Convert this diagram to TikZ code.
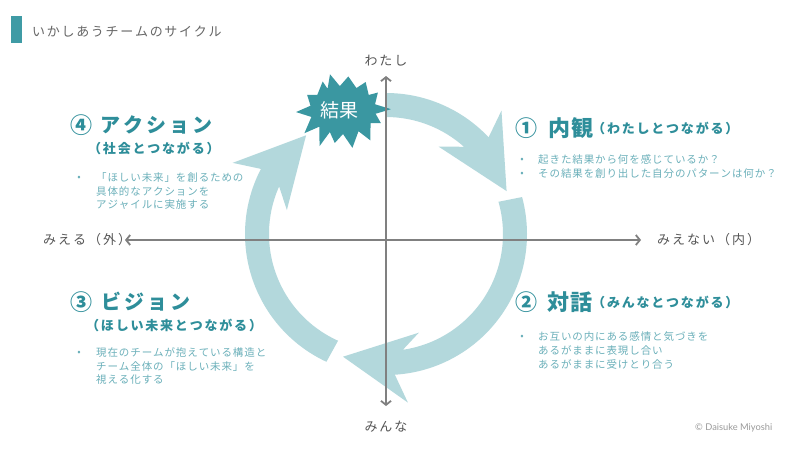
\documentclass[tikz,border=0pt]{standalone}
\usepackage{fontspec}
\setmainfont{Noto Sans CJK JP}
\newfontfamily\latofont{Lato}
\usetikzlibrary{arrows.meta}
\definecolor{ringc}{HTML}{B3D8DC}
\definecolor{burstc}{HTML}{3A97A1}
\definecolor{headc}{HTML}{2E8E9A}
\definecolor{bodyc}{HTML}{6BB0BA}
\definecolor{axisc}{HTML}{808080}
\definecolor{labelc}{HTML}{555555}
\definecolor{titlec}{HTML}{666666}
\definecolor{barc}{HTML}{3F9BA5}
\definecolor{copyc}{HTML}{9A9A9A}
\makeatletter
\newcommand\lsp[2]{\def\lsp@k{#1}\@tfor\lsp@c:=#2\do{\lsp@c\kern\lsp@k}\unkern}
\makeatother
\begin{document}
\begin{tikzpicture}[x=1pt,y=1pt,
  bodytxt/.style={font=\fontsize{10.5}{12}\selectfont,text=bodyc,anchor=west,inner sep=0pt},
  bul/.style={font=\fontsize{10}{12}\selectfont,text=bodyc,inner sep=0pt},
  numtxt/.style={font=\fontsize{22}{26}\selectfont\bfseries,text=headc,anchor=west,inner sep=0pt},
  headtxt/.style={font=\fontsize{20}{24}\selectfont\bfseries,text=headc,anchor=west,inner sep=0pt},
  kanjihead/.style={font=\fontsize{22}{26}\selectfont\bfseries,text=headc,anchor=west,inner sep=0pt},
  subtxt/.style={font=\fontsize{13}{15}\selectfont\bfseries,text=headc,anchor=west,inner sep=0pt},
  axlabel/.style={font=\fontsize{13}{15}\selectfont,text=labelc,inner sep=0pt},
  ringseg/.style={fill=ringc},
  axisline/.style={draw=axisc,line width=1.8pt,{Straight Barb[length=4pt,width=10pt]}-{Straight Barb[length=4pt,width=10pt]}}
]
\useasboundingbox (0,0) rectangle (800,-456);
\fill[white] (0,0) rectangle (800,-456);

% title
\fill[barc] (11,-16) rectangle (22,-43);
\node[font=\fontsize{13}{15}\selectfont,text=titlec,anchor=west,inner sep=0pt] (title) at (32,-32) {\lsp{1.7pt}{いかしあうチームのサイクル}};

% ring
\begin{scope}[shift={(386,-234)}]
\fill[ringseg] (90:141) arc[start angle=90,end angle=43.3,radius=141] -- (46.9:169) -- (19.6:128) -- (59:102) -- (48.2:117) arc[start angle=48.2,end angle=90,radius=117] -- cycle;
\fill[ringseg] (15.2:141) arc[start angle=15.2,end angle=-86.4,radius=141] -- (-82.6:170) -- (-109.3:130) -- (-71.6:104) -- (-81.7:117) arc[start angle=-81.7,end angle=16,radius=117] -- cycle;
\fill[ringseg] (245:141) arc[start angle=245,end angle=152.5,radius=141] -- (155.1:169) -- (129:127) -- (166.4:102) -- (156:117) arc[start angle=156,end angle=245.8,radius=117] -- cycle;
\end{scope}

% burst
\begin{scope}[shift={(343,-110)}]
\fill[burstc] (1:48) -- ({33*cos(13.8)},{24*sin(13.8)}) -- (26.6:39) -- ({33*cos(38.8)},{24*sin(38.8)})
 -- (51:36) -- ({33*cos(66)},{24*sin(66)}) -- (81:34) -- ({33*cos(95.5)},{24*sin(95.5)})
 -- (110:38) -- ({33*cos(117.8)},{24*sin(117.8)}) -- (125.5:35) -- ({33*cos(141.2)},{24*sin(141.2)})
 -- (157:39) -- ({33*cos(169.8)},{24*sin(169.8)}) -- (182.5:47) -- ({33*cos(196.8)},{24*sin(196.8)})
 -- (211:45) -- ({33*cos(224)},{24*sin(224)}) -- (237:43) -- ({33*cos(246.5)},{24*sin(246.5)})
 -- (256:34) -- ({33*cos(270)},{24*sin(270)}) -- (284:39) -- ({33*cos(298)},{24*sin(298)})
 -- (312:41) -- ({33*cos(326.5)},{24*sin(326.5)}) -- (341:40) -- ({33*cos(351)},{24*sin(351)}) -- cycle;
\end{scope}
\node[font=\fontsize{19}{22}\selectfont,text=white,inner sep=0pt] (kekka) at (339,-110) {結果};

% axes
\coordinate (axL) at (125,-240);
\coordinate (axR) at (641,-240);
\coordinate (axT) at (386,-76);
\coordinate (axB) at (386,-406);
\draw[axisline] (axL) -- (axR);
\draw[axisline] (axT) -- (axB);

\node[axlabel] (lt) at (386,-61) {\lsp{2pt}{わたし}};
\node[axlabel] (lb) at (386,-427) {\lsp{2pt}{みんな}};
\node[axlabel,anchor=west] (ll) at (43,-240) {\lsp{2pt}{みえる（外）}};
\node[axlabel,anchor=west] (lr) at (657,-240) {\lsp{2pt}{みえない（内）}};

% 4 action
\node[numtxt] (n4) at (70,-125) {④};
\node[headtxt] (h4) at (100,-125) {\lsp{3pt}{アクション}};
\node[subtxt] (s4) at (88,-148) {\lsp{1.8pt}{（社会とつながる）}};
\node[bul] (b4) at (79,-178) {•};
\node[bodytxt] (t4a) at (96,-178) {\lsp{0.9pt}{「ほしい未来」を創るための}};
\node[bodytxt] (t4b) at (96,-191.3) {\lsp{0.9pt}{具体的なアクションを}};
\node[bodytxt] (t4c) at (96,-204.6) {\lsp{0.9pt}{アジャイルに実施する}};

% 1
\node[numtxt] (n1) at (515,-128) {①};
\node[kanjihead] (h1) at (548,-128) {\lsp{1pt}{内観}};
\node[subtxt] (s1) at (592,-128) {\lsp{1.8pt}{（わたしとつながる）}};
\node[bul] (b1a) at (522,-160) {•};
\node[bul] (b1b) at (522,-174) {•};
\node[bodytxt] (t1a) at (538,-160) {\lsp{0.9pt}{起きた結果から何を感じているか？}};
\node[bodytxt] (t1b) at (538,-174) {\lsp{0.9pt}{その結果を創り出した自分のパターンは何か？}};

% 2
\node[numtxt] (n2) at (515,-302) {②};
\node[kanjihead] (h2) at (547,-302) {\lsp{1pt}{対話}};
\node[subtxt] (s2) at (592,-302) {\lsp{1.8pt}{（みんなとつながる）}};
\node[bul] (b2) at (522,-337) {•};
\node[bodytxt] (t2a) at (538,-337) {\lsp{0.9pt}{お互いの内にある感情と気づきを}};
\node[bodytxt] (t2b) at (538,-350.7) {\lsp{0.9pt}{あるがままに表現し合い}};
\node[bodytxt] (t2c) at (538,-364) {\lsp{0.9pt}{あるがままに受けとり合う}};

% 3
\node[numtxt] (n3) at (70,-302) {③};
\node[headtxt] (h3) at (101,-302) {\lsp{3pt}{ビジョン}};
\node[subtxt] (s3) at (86,-325) {\lsp{1.8pt}{（ほしい未来とつながる）}};
\node[bul] (b3) at (79,-353) {•};
\node[bodytxt] (t3a) at (96,-353) {\lsp{0.9pt}{現在のチームが抱えている構造と}};
\node[bodytxt] (t3b) at (96,-366.5) {\lsp{0.9pt}{チーム全体の「ほしい未来」を}};
\node[bodytxt] (t3c) at (96,-380) {\lsp{0.9pt}{視える化する}};

\node[font=\latofont\fontsize{9.3}{11}\selectfont,text=copyc,anchor=west,inner sep=0pt] (copy) at (695,-428) {© Daisuke Miyoshi};
\end{tikzpicture}
\end{document}
